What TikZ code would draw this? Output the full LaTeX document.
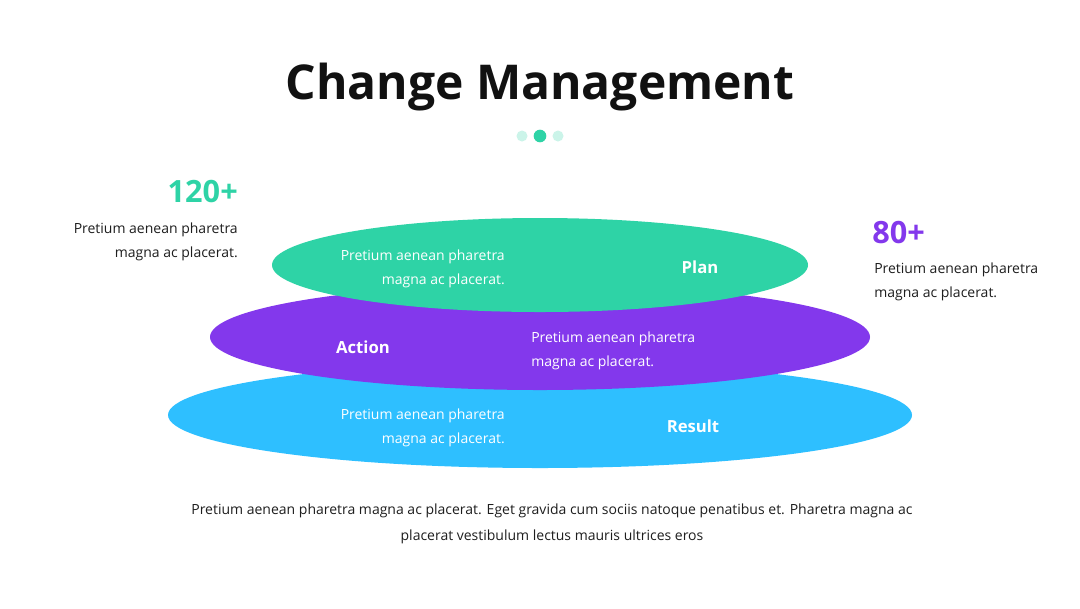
\documentclass[tikz,border=0pt]{standalone}
\usepackage{fontspec}
\setmainfont{Open Sans}
\usetikzlibrary{shapes.geometric,positioning}
\definecolor{mint}{RGB}{46,211,166}
\definecolor{violet}{RGB}{131,56,236}
\definecolor{sky}{RGB}{46,191,255}
\definecolor{ink}{RGB}{17,17,17}
\definecolor{body}{RGB}{30,30,30}
\tikzset{
  layer/.style={ellipse,fill=#1,inner sep=0pt},
  blurb/.style={font=\fontsize{10.5}{18.5}\selectfont,text=body,inner sep=0pt},
  wblurb/.style={font=\fontsize{10.5}{18.5}\selectfont,text=white,inner sep=0pt},
  tagname/.style={font=\fontsize{12.5}{15}\selectfont\bfseries,text=white,inner sep=0pt},
  stat/.style={font=\fontsize{23}{27}\selectfont\bfseries,text=#1,inner sep=0pt},
  dot/.style={circle,fill=#1,inner sep=0pt},
}
\begin{document}
\begin{tikzpicture}[x=0.75pt,y=-0.75pt]
  \useasboundingbox[fill=white] (0,0) rectangle (1080,608);
  \node[font=\fontsize{36}{43}\selectfont\bfseries,text=ink] (title) at (540,87) {Change Management};
  \node[dot=mint!25,minimum size=8.25pt] (d1) at (522,136) {};
  \node[dot=mint,minimum size=9.5pt] (d2) at (540,136) {};
  \node[dot=mint!25,minimum size=8.25pt] (d3) at (558,136) {};
  % stacked layers
  \node[layer=sky,minimum width=558pt,minimum height=79.5pt] (result) at (540,415) {};
  \node[layer=violet,minimum width=495pt,minimum height=79.5pt] (action) at (540,337) {};
  \node[layer=mint,minimum width=402pt,minimum height=70.5pt] (plan) at (540,265) {};
  \node[wblurb,align=right,anchor=east] (plantxt) at (505,269) {Pretium aenean pharetra\\magna ac placerat.};
  \node[tagname] (planlbl) at (700,267) {Plan};
  \node[tagname] (actionlbl) at (363,347) {Action};
  \node[wblurb,align=left,anchor=west] (actiontxt) at (531,351) {Pretium aenean pharetra\\magna ac placerat.};
  \node[wblurb,align=right,anchor=east] (resulttxt) at (505,428) {Pretium aenean pharetra\\magna ac placerat.};
  \node[tagname] (resultlbl) at (693,426) {Result};
  % side figures
  \node[stat=mint,anchor=east] (lstat) at (238,192) {120+};
  \node[blurb,align=right,anchor=east] (ltxt) at (238,242) {Pretium aenean pharetra\\magna ac placerat.};
  \node[stat=violet,anchor=west] (rstat) at (872,233) {80+};
  \node[blurb,align=left,anchor=west] (rtxt) at (874,282) {Pretium aenean pharetra\\magna ac placerat.};
  \node[blurb,align=center,font=\fontsize{10.5}{19.5}\selectfont] (foot) at (552,524) {Pretium aenean pharetra magna ac placerat. Eget gravida cum sociis natoque penatibus et. Pharetra magna ac\\placerat vestibulum lectus mauris ultrices eros};
\end{tikzpicture}
\end{document}
